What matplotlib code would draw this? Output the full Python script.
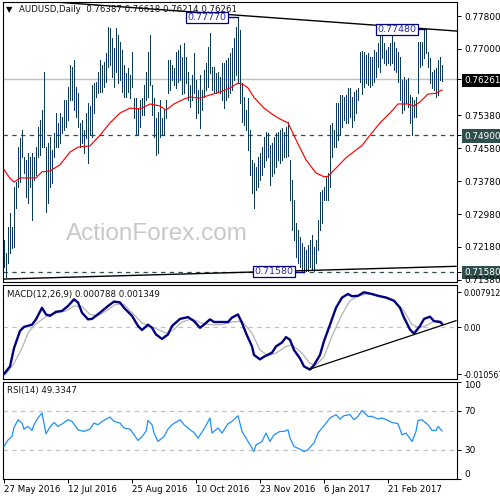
import matplotlib
matplotlib.use('Agg')
import matplotlib.pyplot as plt
import numpy as np

# ---------------- data ----------------
highs = [0.7236, 0.7204, 0.7267, 0.7301, 0.7267, 0.7364, 0.7376, 0.7461, 0.7484, 0.7503,
         0.7437, 0.7430, 0.7447, 0.7437, 0.7447, 0.7437, 0.7461, 0.7510, 0.7527, 0.7552,
         0.7644, 0.7461, 0.7471, 0.7486, 0.7454, 0.7496, 0.7544, 0.7520, 0.7544, 0.7535,
         0.7576, 0.7576, 0.7607, 0.7661, 0.7656, 0.7673, 0.7607, 0.7593, 0.7520, 0.7527,
         0.7503, 0.7544, 0.7568, 0.7560, 0.7612, 0.7617, 0.7620, 0.7644, 0.7673, 0.7661,
         0.7668, 0.7690, 0.7753, 0.7751, 0.7726, 0.7702, 0.7751, 0.7734, 0.7717, 0.7697,
         0.7661, 0.7641, 0.7654, 0.7637, 0.7692, 0.7580, 0.7580, 0.7556, 0.7576, 0.7580,
         0.7612, 0.7644, 0.7692, 0.7734, 0.7612, 0.7580, 0.7532, 0.7547, 0.7576, 0.7532,
         0.7551, 0.7576, 0.7673, 0.7673, 0.7661, 0.7654, 0.7692, 0.7697, 0.7709, 0.7680,
         0.7714, 0.7680, 0.7644, 0.7612, 0.7637, 0.7690, 0.7624, 0.7600, 0.7637, 0.7600,
         0.7649, 0.7666, 0.7705, 0.7739, 0.7656, 0.7656, 0.7641, 0.7644, 0.7632, 0.7666,
         0.7666, 0.7673, 0.7678, 0.7690, 0.7702, 0.7726, 0.7753, 0.7777, 0.7746, 0.7617,
         0.7583, 0.7551, 0.7580, 0.7503, 0.7430, 0.7422, 0.7413, 0.7437, 0.7447, 0.7461,
         0.7486, 0.7498, 0.7496, 0.7466, 0.7471, 0.7486, 0.7496, 0.7498, 0.7503, 0.7508,
         0.7498, 0.7510, 0.7522, 0.7430, 0.7381, 0.7333, 0.7277, 0.7260, 0.7243, 0.7228,
         0.7219, 0.7211, 0.7223, 0.7236, 0.7248, 0.7219, 0.7236, 0.7284, 0.7352, 0.7357,
         0.7364, 0.7389, 0.7398, 0.7515, 0.7520, 0.7503, 0.7568, 0.7568, 0.7588, 0.7588,
         0.7583, 0.7588, 0.7605, 0.7605, 0.7583, 0.7595, 0.7600, 0.7605, 0.7692, 0.7695,
         0.7692, 0.7685, 0.7690, 0.7680, 0.7680, 0.7697, 0.7692, 0.7714, 0.7734, 0.7739,
         0.7714, 0.7697, 0.7705, 0.7714, 0.7739, 0.7717, 0.7702, 0.7692, 0.7680, 0.7624,
         0.7632, 0.7624, 0.7629, 0.7588, 0.7583, 0.7576, 0.7583, 0.7717, 0.7717, 0.7717,
         0.7746, 0.7748, 0.7692, 0.7678, 0.7644, 0.7649, 0.7654, 0.7673, 0.7680, 0.7662]
lows = [0.7170, 0.7146, 0.7180, 0.7204, 0.7216, 0.7219, 0.7313, 0.7364, 0.7376, 0.7437,
        0.7398, 0.7340, 0.7326, 0.7364, 0.7284, 0.7381, 0.7394, 0.7437, 0.7442, 0.7461,
        0.7461, 0.7304, 0.7326, 0.7364, 0.7374, 0.7437, 0.7461, 0.7461, 0.7471, 0.7496,
        0.7503, 0.7510, 0.7527, 0.7576, 0.7576, 0.7552, 0.7535, 0.7510, 0.7461, 0.7471,
        0.7447, 0.7483, 0.7422, 0.7490, 0.7486, 0.7544, 0.7583, 0.7593, 0.7595, 0.7595,
        0.7607, 0.7620, 0.7656, 0.7661, 0.7632, 0.7607, 0.7644, 0.7617, 0.7624, 0.7595,
        0.7583, 0.7583, 0.7595, 0.7580, 0.7607, 0.7532, 0.7490, 0.7490, 0.7510, 0.7539,
        0.7539, 0.7576, 0.7583, 0.7612, 0.7539, 0.7486, 0.7442, 0.7447, 0.7486, 0.7490,
        0.7490, 0.7532, 0.7593, 0.7600, 0.7624, 0.7612, 0.7605, 0.7620, 0.7624, 0.7590,
        0.7593, 0.7617, 0.7576, 0.7559, 0.7576, 0.7593, 0.7532, 0.7544, 0.7508, 0.7551,
        0.7583, 0.7600, 0.7607, 0.7641, 0.7600, 0.7593, 0.7593, 0.7595, 0.7593, 0.7576,
        0.7556, 0.7576, 0.7583, 0.7593, 0.7600, 0.7624, 0.7637, 0.7617, 0.7568, 0.7522,
        0.7515, 0.7503, 0.7454, 0.7393, 0.7350, 0.7313, 0.7357, 0.7364, 0.7381, 0.7393,
        0.7413, 0.7430, 0.7437, 0.7369, 0.7390, 0.7398, 0.7413, 0.7430, 0.7422, 0.7430,
        0.7437, 0.7437, 0.7440, 0.7333, 0.7260, 0.7236, 0.7194, 0.7180, 0.7170, 0.7158,
        0.7158, 0.7160, 0.7160, 0.7170, 0.7163, 0.7160, 0.7180, 0.7211, 0.7260, 0.7277,
        0.7333, 0.7333, 0.7333, 0.7364, 0.7437, 0.7461, 0.7461, 0.7479, 0.7490, 0.7510,
        0.7527, 0.7520, 0.7520, 0.7535, 0.7510, 0.7527, 0.7544, 0.7576, 0.7620, 0.7590,
        0.7607, 0.7617, 0.7612, 0.7607, 0.7612, 0.7620, 0.7632, 0.7656, 0.7644, 0.7678,
        0.7666, 0.7661, 0.7666, 0.7661, 0.7666, 0.7649, 0.7644, 0.7620, 0.7576, 0.7544,
        0.7551, 0.7568, 0.7559, 0.7520, 0.7490, 0.7535, 0.7535, 0.7593, 0.7656, 0.7661,
        0.7678, 0.7690, 0.7656, 0.7617, 0.7605, 0.7600, 0.7583, 0.7588, 0.7624, 0.7621]

ma_idx = [0, 3, 5, 8, 16, 19, 23, 28, 33, 37, 43, 48, 53, 58, 63, 68, 73, 78, 81, 85,
          90, 93, 98, 103, 108, 113, 117, 120, 122, 125, 130, 133, 136, 139, 142, 146,
          151, 156, 160, 162, 166, 171, 176, 179, 183, 188, 193, 197, 202, 205, 208,
          212, 216, 219]
ma_val = [0.7406, 0.7385, 0.7376, 0.7386, 0.7386, 0.7401, 0.7403, 0.7418, 0.7449, 0.7461,
          0.7464, 0.7490, 0.7520, 0.7544, 0.7556, 0.7554, 0.7566, 0.7561, 0.7551, 0.7566,
          0.7578, 0.7583, 0.7580, 0.7588, 0.7595, 0.7605, 0.7617, 0.7612, 0.7605, 0.7582,
          0.7556, 0.7545, 0.7535, 0.7527, 0.7520, 0.7479, 0.7430, 0.7398, 0.7389, 0.7390,
          0.7410, 0.7435, 0.7454, 0.7465, 0.7490, 0.7520, 0.7544, 0.7566, 0.7566, 0.7561,
          0.7571, 0.7590, 0.7592, 0.7600]

macd_idx = [0, 3, 5, 8, 10, 14, 16, 19, 21, 23, 26, 29, 32, 35, 37, 39, 42, 44, 48, 52,
            55, 58, 60, 64, 67, 69, 72, 74, 76, 79, 82, 84, 88, 92, 95, 98, 100, 103, 105,
            109, 112, 114, 117, 119, 121, 124, 125, 128, 130, 134, 136, 139, 141, 143, 145,
            148, 150, 153, 155, 158, 160, 163, 166, 169, 172, 174, 177, 180, 184, 187, 191,
            195, 198, 200, 203, 205, 208, 210, 213, 215, 218, 219]
macd_val = [-0.0105, -0.0088, -0.0047, -0.0008, 0.0001, 0.0006, 0.0018, 0.0044, 0.0029,
            0.0026, 0.0035, 0.0037, 0.0048, 0.0063, 0.0056, 0.0033, 0.0018, 0.0019, 0.0033,
            0.0048, 0.0058, 0.0056, 0.0044, 0.0026, 0.0003, -0.0006, 0.0006, -0.0001,
            -0.0016, -0.0026, -0.0016, 0.0003, 0.0019, 0.0023, 0.0014, -0.0001, 0.0006,
            0.0018, 0.0012, 0.0012, 0.0012, 0.0022, 0.0029, 0.0010, -0.0013, -0.0043,
            -0.0062, -0.0072, -0.0066, -0.0057, -0.0043, -0.0034, -0.0022, -0.0028,
            -0.0051, -0.0070, -0.0088, -0.0095, -0.0085, -0.0062, -0.0031, 0.0006, 0.0044,
            0.0067, 0.0075, 0.0070, 0.0071, 0.0079, 0.0075, 0.0071, 0.0067, 0.0060, 0.0044,
            0.0022, -0.0005, -0.0014, 0.0003, 0.0019, 0.0024, 0.0014, 0.0012, 0.0008]

signal_idx = [1, 5, 9, 12, 15, 19, 23, 27, 31, 35, 39, 43, 47, 51, 56, 60, 64, 69, 73,
              77, 81, 85, 89, 94, 99, 104, 109, 114, 119, 124, 128, 132, 136, 141, 144,
              149, 153, 156, 160, 164, 169, 173, 177, 181, 186, 191, 196, 200, 204, 208,
              212, 216, 219]
signal_val = [-0.0105, -0.0081, -0.0047, -0.0013, 0.0004, 0.0018, 0.0029, 0.0033, 0.0037,
              0.0048, 0.0047, 0.0029, 0.0026, 0.0037, 0.0052, 0.0052, 0.0033, 0.0010,
              0.0003, -0.0005, -0.0013, -0.0005, 0.0012, 0.0019, 0.0009, 0.0006, 0.0006,
              0.0012, 0.0014, -0.0013, -0.0051, -0.0064, -0.0058, -0.0043, -0.0039,
              -0.0058, -0.0081, -0.0085, -0.0066, -0.0020, 0.0029, 0.0060, 0.0070, 0.0075,
              0.0073, 0.0067, 0.0056, 0.0037, 0.0006, -0.0001, 0.0006, 0.0016, 0.0013]

rsi_idx = [0, 2, 4, 5, 7, 9, 10, 12, 14, 15, 17, 19, 21, 23, 25, 27, 29, 32, 34, 37, 40,
           43, 45, 47, 49, 53, 55, 58, 60, 63, 65, 67, 69, 71, 72, 74, 75, 77, 80, 82, 84,
           88, 90, 93, 95, 97, 100, 103, 104, 107, 109, 112, 114, 117, 119, 121, 124, 125,
           126, 129, 131, 133, 135, 138, 140, 142, 143, 145, 148, 150, 152, 154, 155, 157,
           159, 160, 163, 166, 168, 170, 173, 175, 177, 179, 182, 184, 187, 189, 192, 194,
           197, 199, 201, 204, 206, 207, 209, 212, 214, 216, 217, 219]
rsi_val = [33.3, 40.0, 43.6, 52.6, 60.8, 57.4, 51.2, 53.9, 49.8, 55.7, 62.6, 67.7, 46.4,
           53.3, 58.0, 53.9, 56.4, 60.8, 59.1, 50.5, 48.8, 51.2, 57.4, 55.7, 59.1, 63.6,
           59.1, 57.4, 52.3, 51.2, 45.4, 39.5, 43.6, 48.8, 60.1, 55.7, 47.1, 38.5, 43.6,
           51.2, 55.7, 60.8, 55.7, 50.5, 47.7, 42.0, 51.2, 62.6, 47.1, 52.3, 47.1, 56.7,
           59.1, 64.9, 48.8, 42.0, 31.6, 28.2, 35.0, 38.5, 47.1, 38.5, 45.4, 48.8, 48.8,
           50.5, 42.0, 33.3, 30.6, 28.2, 29.9, 35.0, 36.8, 47.1, 52.3, 54.6, 62.6, 66.0,
           61.5, 64.9, 66.0, 60.8, 64.2, 70.4, 64.2, 64.2, 61.5, 62.6, 60.1, 58.0, 56.7,
           45.4, 47.1, 38.5, 48.8, 60.1, 60.8, 55.7, 49.8, 49.8, 53.9, 49.3]

price_ticks = [0.7780, 0.7700, 0.76261, 0.7538, 0.7490, 0.7458, 0.7378, 0.7298, 0.7218,
               0.7158, 0.7138]
current_price = 0.76261
support_levels = [0.7490, 0.7158]
upper_trend_idx = [40, 226]
upper_trend_val = [0.7809, 0.77435]
lower_trend_idx = [0, 226]
lower_trend_val = [0.7140, 0.7171]
macd_trend_idx = [153, 226]
macd_trend_val = [-0.0094, 0.0015]
peak_labels = ['0.77770', '0.77480', '0.71580']
peak_prices = [0.7777, 0.7748, 0.7158]
peak_bar_idx = [117, 211, 150]
peak_label_idx = [101.5, 196.5, 135]

date_tick_idx = [0, 32, 64, 96, 128, 160, 192]
date_labels = ['27 May 2016', '12 Jul 2016', '25 Aug 2016', '10 Oct 2016',
               '23 Nov 2016', '6 Jan 2017', '21 Feb 2017']
macd_ticks = [0.007912, 0.0, -0.010567]
macd_tick_labels = ['0.007912', '0.00', '-0.010567']
rsi_ticks = [100, 70, 30, 0]

# ---------------- figure ----------------
plt.rcParams['font.family'] = ['DejaVu Sans']
fig = plt.figure(figsize=(5, 5), dpi=100)
W = 500.0
def box(x0, y0, x1, y1):
    return [x0 / W, 1 - y1 / W, (x1 - x0) / W, (y1 - y0) / W]

ax1 = fig.add_axes(box(3, 1.5, 457, 282.3))
ax2 = fig.add_axes(box(3, 285.3, 457, 378.5))
ax3 = fig.add_axes(box(3, 381.5, 457, 479))

XLIM = (-0.5, 226.5)
for ax in (ax1, ax2, ax3):
    ax.set_xlim(*XLIM)
    for s in ax.spines.values():
        s.set_linewidth(0.8)
        s.set_color('black')
    ax.yaxis.tick_right()
    ax.tick_params(axis='y', length=3, width=0.7, pad=2, labelsize=6.4, direction='out')

bar_col = '#0b3a5a'
dark_slate = '#2f4f4f'

# ---- main price panel ----
ax1.set_ylim(0.71321, 0.78153)
idx = np.arange(len(highs))
ax1.axhline(current_price, color='#c0c0c0', lw=1.0, zorder=1)
for lvl in support_levels:
    ax1.axhline(lvl, color=dark_slate, lw=0.9, ls=(0, (3.5, 3.5)), zorder=1)
ax1.vlines(idx, lows, highs, color=bar_col, lw=0.6, antialiased=False, zorder=3)
ax1.plot(ma_idx, ma_val, color='red', lw=0.85, zorder=4)

# trend lines (upper one extended to the right edge, clipped by the axes)
def extend(ix, iv):
    slope = (iv[1] - iv[0]) / (ix[1] - ix[0])
    xs = np.array([XLIM[0], XLIM[1]])
    return xs, iv[0] + slope * (xs - ix[0])
xs, ys = extend(upper_trend_idx, upper_trend_val)
ax1.plot(xs, ys, color='black', lw=1.0, zorder=5)
ax1.plot(lower_trend_idx, lower_trend_val, color='black', lw=1.0, zorder=5)

for lab, pr, bi, li in zip(peak_labels, peak_prices, peak_bar_idx, peak_label_idx):
    ax1.plot([li + 10.5, bi], [pr, pr], color='#000080', lw=1.0, zorder=6)
    ax1.text(li, pr, lab, ha='center', va='center', fontsize=6.8, color='#2a2ab0',
             zorder=7, bbox=dict(facecolor='white', edgecolor='#000080', lw=0.9,
                                 boxstyle='square,pad=0.12'))

ax1.set_xticks([])
ax1.set_yticks(price_ticks)
ax1.set_yticklabels(['%.5f' % v for v in price_ticks])
for t, v in zip(ax1.get_yticklabels(), price_ticks):
    if abs(v - current_price) < 1e-6:
        t.set_color('white')
        t.set_bbox(dict(facecolor='black', edgecolor='none', boxstyle='square,pad=0.25'))
    elif any(abs(v - s) < 1e-6 for s in support_levels):
        t.set_color('white')
        t.set_bbox(dict(facecolor=dark_slate, edgecolor='none', boxstyle='square,pad=0.25'))

# watermark
ax1.text(157 / W, 1 - 234 / W, 'ActionForex.com', transform=fig.transFigure,
         ha='center', va='center', fontsize=17.5, color='#c8c8c8',
         family='Liberation Sans', zorder=0)

# header
fig.text(6 / W, 1 - 10 / W, '\u25bc', fontsize=6, va='center', ha='left', color='black')
fig.text(19 / W, 1 - 9.5 / W, 'AUDUSD,Daily  0.76387 0.76618 0.76214 0.76261',
         fontsize=6.2, va='center', ha='left', color='#111111')

# ---- MACD panel ----
ax2.set_ylim(-0.01151, 0.00946)
ax2.axhline(0, color='#c0c0c0', lw=0.9, ls=(0, (3.5, 3.5)), zorder=1)
ax2.plot(signal_idx, signal_val, color='#b4b4b4', lw=0.9, zorder=2)
ax2.plot(macd_idx, macd_val, color='#000080', lw=1.7, zorder=3)
ax2.plot(macd_trend_idx, macd_trend_val, color='black', lw=0.9, zorder=4)
ax2.set_xticks([])
ax2.set_yticks(macd_ticks)
ax2.set_yticklabels(macd_tick_labels)
ax2.tick_params(axis='y', labelsize=5.7, pad=1.5)
fig.text(7 / W, 1 - 294 / W, 'MACD(12,26,9) 0.000788 0.001349', fontsize=6.2,
         va='center', ha='left', color='#111111')

# ---- RSI panel ----
ax3.set_ylim(0, 100)
for lvl in (70, 30):
    ax3.axhline(lvl, color='#c0c0c0', lw=0.9, ls=(0, (3.5, 3.5)), zorder=1)
ax3.plot(rsi_idx, rsi_val, color='#1e90ff', lw=0.9, zorder=3)
ax3.set_yticks(rsi_ticks)
ax3.set_yticklabels([str(v) for v in rsi_ticks])
labs = ax3.get_yticklabels()
labs[0].set_va('top')
labs[-1].set_va('bottom')
fig.text(7 / W, 1 - 391 / W, 'RSI(14) 49.3347', fontsize=6.2, va='center', ha='left',
         color='#111111')
ax3.set_xticks(date_tick_idx)
ax3.set_xticklabels(date_labels, ha='left')
ax3.tick_params(axis='x', length=3, width=0.7, pad=1, labelsize=6.2, direction='out')

fig.savefig('out.png', dpi=100)
